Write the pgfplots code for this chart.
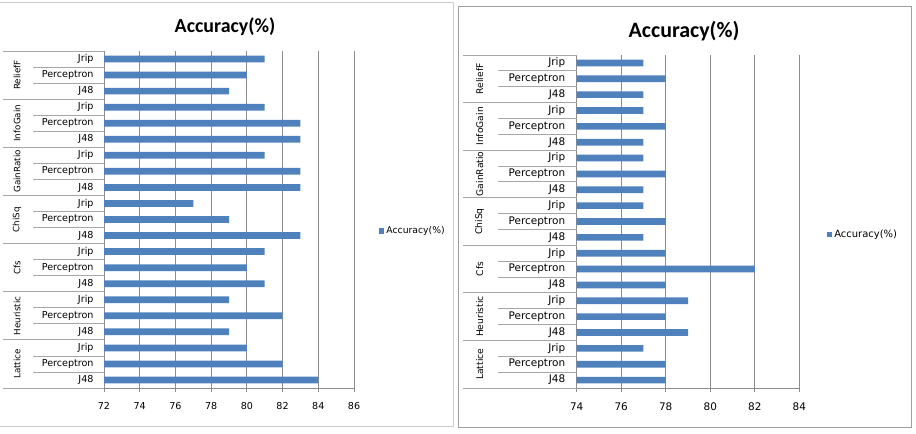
\documentclass[border=0pt]{standalone}
\usepackage{pgfplots}
\pgfplotsset{compat=1.18}
\usetikzlibrary{calc}
\usepackage{fontspec}
\setmainfont{DejaVu Sans}
\newfontfamily\titlefont{Carlito}

\definecolor{barblue}{HTML}{4F81BD}
\definecolor{gridgray}{HTML}{8C8C8C}
\definecolor{sepgray}{HTML}{A6A6A6}

\pgfplotsset{
  accchart/.style={
    xbar, scale only axis, y dir=reverse,
    ymin=-0.5, ymax=20.5, ytick={0,...,20},
    yticklabels={Jrip,Perceptron,J48,Jrip,Perceptron,J48,Jrip,Perceptron,J48,
                 Jrip,Perceptron,J48,Jrip,Perceptron,J48,Jrip,Perceptron,J48,
                 Jrip,Perceptron,J48},
    bar width=0.42,
    axis x line*=bottom, axis y line*=left,
    axis line style={gridgray, line width=0.8bp},
    xmajorgrids, grid style={gridgray, line width=0.8bp},
    xtick align=outside, major tick length=4bp,
    ytick style={draw=none},
    xtick style={gridgray, line width=0.8bp},
    /pgf/number format/assume math mode=true,
    legend cell align=left,
    legend style={draw=none, fill=none, anchor=west, inner sep=0pt,
                  row sep=0pt},
    legend image code/.code={\fill[barblue] (0bp,-2.6bp) rectangle (5.2bp,2.6bp);},
  },
}

\begin{document}
\begin{tikzpicture}
\useasboundingbox (0bp,0bp) rectangle (916bp,-434bp);

% chart frames
\draw[gray!40, line width=1bp] (0.5bp,-2bp) -- (453.5bp,-2bp) -- (453.5bp,-426bp) -- (0.5bp,-426bp);
\draw[gray!75, line width=1bp] (458bp,-6bp) rectangle (911bp,-427bp);

% ---------------- left chart ----------------
\begin{axis}[accchart, name=L,
  at={(104bp,-388bp)}, anchor=south west, width=250bp, height=337bp,
  xmin=72, xmax=86, xtick={72,74,...,86},
  ticklabel style={font=\fontsize{9.6}{11}\selectfont},
  yticklabel style={xshift=-3bp},
  xticklabel style={yshift=-7bp},
  title={\titlefont\bfseries\fontsize{20}{22}\selectfont Accuracy(\%)},
  title style={at={(0.484,1.053)}, anchor=center},
  legend style={at={(1.10,0.466)}, font=\fontsize{9.3}{11}\selectfont},
]
\addplot[fill=barblue, draw=none] coordinates {
  (81,0) (80,1) (79,2)
  (81,3) (83,4) (83,5)
  (81,6) (83,7) (83,8)
  (77,9) (79,10) (83,11)
  (81,12) (80,13) (81,14)
  (79,15) (82,16) (79,17)
  (80,18) (82,19) (84,20)
};
\addlegendentry{Accuracy(\%)}
\end{axis}

\foreach \k in {0,3,...,21}
  \draw[sepgray, line width=0.8bp] ($(L.north west)!{\k/21}!(L.south west)$) -- ++(-101bp,0bp);
\foreach \k in {1,2,4,5,7,8,10,11,13,14,16,17,19,20}
  \draw[sepgray, line width=0.8bp] ($(L.north west)!{\k/21}!(L.south west)$) -- ++(-71bp,0bp);
\foreach \g/\name in {0/ReliefF,1/InfoGain,2/GainRatio,3/ChiSq,4/Cfs,5/Heuristic,6/Lattice}
  \node[rotate=90, font=\fontsize{8.8}{10}\selectfont]
    at ($(L.north west)!{(3*\g+1.5)/21}!(L.south west) + (-87bp,0bp)$) {\name};

% ---------------- right chart ----------------
\begin{axis}[accchart, name=R,
  at={(576.7bp,-388bp)}, anchor=south west, width=222.6bp, height=333bp,
  xmin=74, xmax=84, xtick={74,76,...,84},
  ticklabel style={font=\fontsize{10.5}{12}\selectfont},
  yticklabel style={xshift=-4bp},
  xticklabel style={yshift=-7bp},
  title={\titlefont\bfseries\fontsize{22}{24}\selectfont Accuracy(\%)},
  title style={at={(0.482,1.054)}, anchor=center},
  legend style={at={(1.124,0.462)}, font=\fontsize{10}{12}\selectfont},
]
\addplot[fill=barblue, draw=none] coordinates {
  (77,0) (78,1) (77,2)
  (77,3) (78,4) (77,5)
  (77,6) (78,7) (77,8)
  (77,9) (78,10) (77,11)
  (78,12) (82,13) (78,14)
  (79,15) (78,16) (79,17)
  (77,18) (78,19) (78,20)
};
\addlegendentry{Accuracy(\%)}
\end{axis}

\foreach \k in {0,3,...,21}
  \draw[sepgray, line width=0.8bp] ($(R.north west)!{\k/21}!(R.south west)$) -- ++(-114bp,0bp);
\foreach \k in {1,2,4,5,7,8,10,11,13,14,16,17,19,20}
  \draw[sepgray, line width=0.8bp] ($(R.north west)!{\k/21}!(R.south west)$) -- ++(-79bp,0bp);
\foreach \g/\name in {0/ReliefF,1/InfoGain,2/GainRatio,3/ChiSq,4/Cfs,5/Heuristic,6/Lattice}
  \node[rotate=90, font=\fontsize{9.2}{11}\selectfont]
    at ($(R.north west)!{(3*\g+1.5)/21}!(R.south west) + (-97bp,0bp)$) {\name};
\end{tikzpicture}
\end{document}
